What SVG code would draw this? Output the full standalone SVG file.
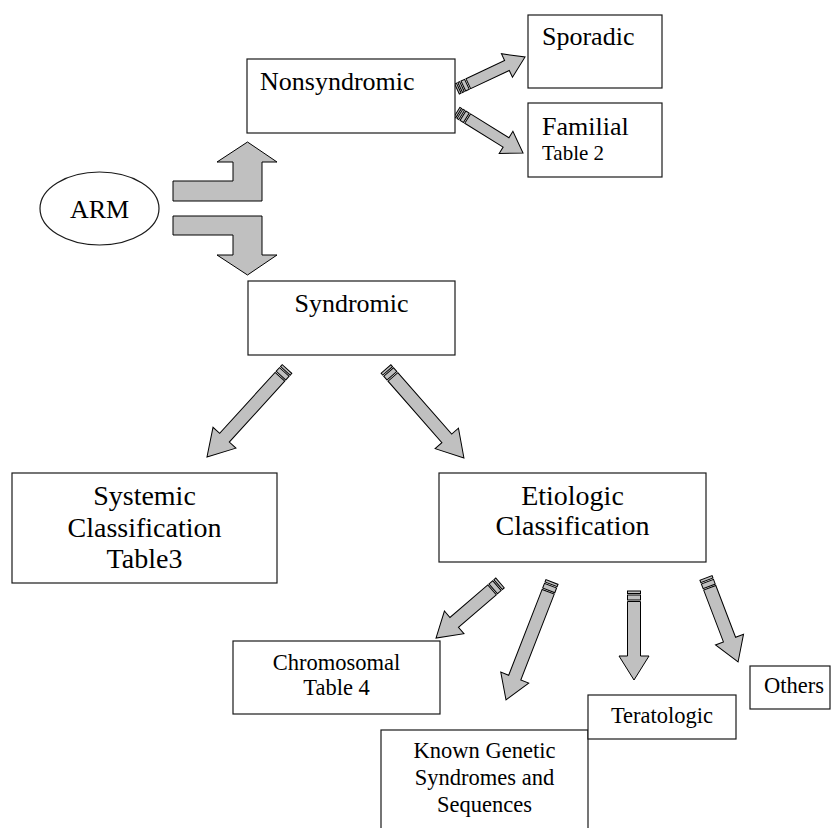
<svg xmlns="http://www.w3.org/2000/svg" width="832" height="828" viewBox="0 0 832 828">
<style>
.box{fill:#fff;stroke:#1a1a1a;stroke-width:1.2}
text{font-family:'Liberation Serif','Times New Roman',Times,'DejaVu Serif',serif;fill:#000}
.arr{fill:#c0c0c0;stroke:#000;stroke-width:1;stroke-linejoin:miter}
</style>
<defs>
<g id="stripesL">
<rect class="arr" x="0" y="-6.5" width="2.5" height="13"/>
<rect class="arr" x="4" y="-6.5" width="5" height="13"/>
</g>
<g id="stripesS">
<rect class="arr" x="0" y="-5.5" width="2" height="11"/>
<rect class="arr" x="3.5" y="-5.5" width="2" height="11"/>
<rect class="arr" x="7" y="-5.5" width="4" height="11"/>
</g>
</defs>
<rect width="832" height="828" fill="#fff"/>

<g id="connectors">
<path class="arr" d="M173,181 L233,181 L233,162 L217,162 L247.5,142 L277,162 L262,162 L262,201 L173,201 Z"/>
<path class="arr" d="M173,216 L262,216 L262,255 L277,255 L247.5,275 L217,255 L233,255 L233,235 L173,235 Z"/>
<g transform="translate(457,89) rotate(-25.2)"><use href="#stripesS"/><path class="arr" d="M12.5,-5.5 H55.2 V-13 L75.2,0 L55.2,13 V5.5 H12.5 Z"/></g>
<g transform="translate(457,112) rotate(31.8)"><use href="#stripesS"/><path class="arr" d="M12.5,-5.5 H57.7 V-13 L77.7,0 L57.7,13 V5.5 H12.5 Z"/></g>
<g transform="translate(287,369) rotate(132.3)"><use href="#stripesL"/><path class="arr" d="M10.5,-6.5 H92.9 V-15.5 L118.9,0 L92.9,15.5 V6.5 H10.5 Z"/></g>
<g transform="translate(386,369) rotate(48.8)"><use href="#stripesL"/><path class="arr" d="M10.5,-6.5 H92.3 V-15.5 L118.3,0 L92.3,15.5 V6.5 H10.5 Z"/></g>
<g transform="translate(500,583) rotate(139.3)"><use href="#stripesL"/><path class="arr" d="M10.5,-6.5 H60.4 V-15 L84.4,0 L60.4,15 V6.5 H10.5 Z"/></g>
<g transform="translate(552,582) rotate(111.3)"><use href="#stripesL"/><path class="arr" d="M10.5,-6.5 H102.6 V-15 L126.6,0 L102.6,15 V6.5 H10.5 Z"/></g>
<g transform="translate(634,591) rotate(90)"><use href="#stripesL"/><path class="arr" d="M10.5,-6.5 H65 V-15 L89,0 L65,15 V6.5 H10.5 Z"/></g>
<g transform="translate(706,578) rotate(69.1)"><use href="#stripesL"/><path class="arr" d="M10.5,-6.5 H65.9 V-15 L89.9,0 L65.9,15 V6.5 H10.5 Z"/></g>
</g>

<g id="arm">
<ellipse class="box" cx="99.5" cy="208.5" rx="59.5" ry="36.5"/>
<text x="99.5" y="218" font-size="26" text-anchor="middle">ARM</text>
</g>
<g id="nonsyndromic">
<rect class="box" x="247" y="59" width="208" height="74"/>
<text x="260" y="90" font-size="26">Nonsyndromic</text>
</g>
<g id="sporadic">
<rect class="box" x="528" y="15" width="134" height="73"/>
<text x="542" y="45" font-size="26">Sporadic</text>
</g>
<g id="familial">
<rect class="box" x="528" y="103" width="134" height="74"/>
<text x="542" y="135" font-size="26">Familial</text>
<text x="542" y="160" font-size="21">Table 2</text>
</g>
<g id="syndromic">
<rect class="box" x="248" y="281" width="207" height="74"/>
<text x="351.5" y="312" font-size="26" text-anchor="middle">Syndromic</text>
</g>
<g id="systemic">
<rect class="box" x="12" y="473" width="265" height="110"/>
<text x="144.5" y="505" font-size="28" text-anchor="middle">Systemic</text>
<text x="144.5" y="537" font-size="28" text-anchor="middle">Classification</text>
<text x="144.5" y="568" font-size="28" text-anchor="middle">Table3</text>
</g>
<g id="etiologic">
<rect class="box" x="439" y="473" width="267" height="89"/>
<text x="572.5" y="505" font-size="28" text-anchor="middle">Etiologic</text>
<text x="572.5" y="535" font-size="28" text-anchor="middle">Classification</text>
</g>
<g id="chromosomal">
<rect class="box" x="233" y="641" width="207" height="73"/>
<text x="336.5" y="670" font-size="22.5" text-anchor="middle">Chromosomal</text>
<text x="336.5" y="695" font-size="22.5" text-anchor="middle">Table 4</text>
</g>
<g id="known-genetic">
<rect class="box" x="381" y="730" width="207" height="120"/>
<text x="484.5" y="758" font-size="22.5" text-anchor="middle">Known Genetic</text>
<text x="484.5" y="785" font-size="22.5" text-anchor="middle">Syndromes and</text>
<text x="484.5" y="812" font-size="22.5" text-anchor="middle">Sequences</text>
</g>
<g id="teratologic">
<rect class="box" x="588" y="695" width="148" height="44"/>
<text x="662" y="723" font-size="22.5" text-anchor="middle">Teratologic</text>
</g>
<g id="others">
<rect class="box" x="750" y="666" width="80" height="43"/>
<text x="764" y="693" font-size="22.5">Others</text>
</g>
</svg>
